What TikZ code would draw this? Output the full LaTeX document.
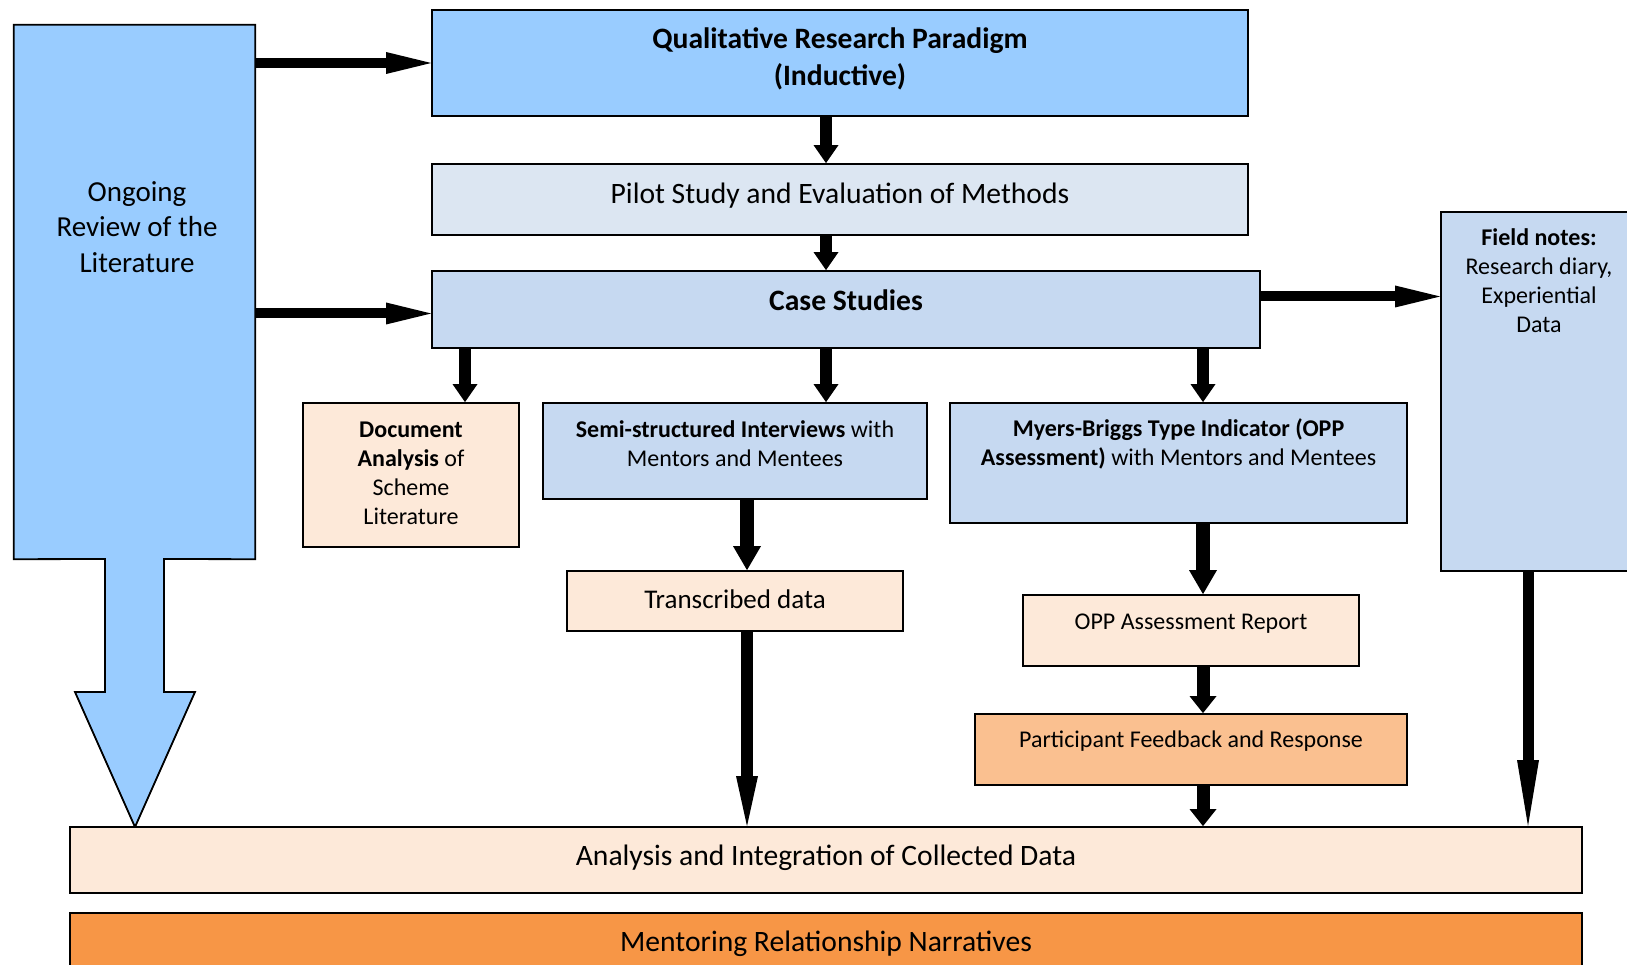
\documentclass[tikz,border=0pt]{standalone}
\usepackage{fontspec}
\setmainfont{Carlito}
\usetikzlibrary{arrows.meta}
\definecolor{skyblue}{HTML}{99CCFF}
\definecolor{paleblue}{HTML}{DCE6F2}
\definecolor{lightblue}{HTML}{C6D9F1}
\definecolor{peach}{HTML}{FDE9D9}
\definecolor{apricot}{HTML}{FAC090}
\definecolor{deeporange}{HTML}{F79646}
\begin{document}
\begin{tikzpicture}[x=1pt,y=-1pt,
  box/.style={draw=black, line width=1.8pt, inner sep=0pt},
  big/.style={font=\fontsize{29.6}{36.4}\selectfont, align=center, inner sep=0pt},
  mid/.style={font=\fontsize{27}{32}\selectfont, align=center, inner sep=0pt},
  small/.style={font=\fontsize{24}{29}\selectfont, align=center, inner sep=0pt},
  shortarrow/.style={line width=12pt, -{Triangle[length=18pt,width=25pt,line width=0pt]}},
  thickarrow/.style={line width=14pt, -{Triangle[length=24pt,width=28pt,line width=0pt]}},
  stubarrow/.style={line width=13pt, -{Triangle[length=17pt,width=27pt,line width=0pt]}},
  longarrow/.style={line width=10pt, -{Triangle[length=45pt,width=22pt,line width=0pt]}},
  spikearrow/.style={line width=11pt, -{Triangle[length=#1,width=22pt,line width=0pt]}},
  spikearrow/.default=60pt]
\useasboundingbox (0,0) rectangle (1627,965);
\clip (0,0) rectangle (1627,965);

% literature review: a box that narrows into a broad downward arrow
\node[minimum width=241pt, minimum height=534pt, inner sep=0pt] (litbox) at (134.5,292) {};
\draw[fill=skyblue, line width=1.8pt, line join=miter]
  (litbox.north west) -- (litbox.north east) -- (litbox.south east)
  -- (164,559) -- (164,692) -- (195,692) -- (135,827) -- (75,692)
  -- (105,692) -- (105,559) -- (litbox.south west) -- cycle;
\node[big, font=\fontsize{29}{35.8}\selectfont] (lit) at (137,227) {Ongoing\\Review of the\\Literature};

% main column
\node[box, fill=skyblue, minimum width=816pt, minimum height=106pt,
  label={[big, yshift=4pt]center:{\textbf{Qualitative Research Paradigm}\\\textbf{(Inductive)}}}]
  (qual) at (840,63) {};
\node[box, fill=paleblue, minimum width=816pt, minimum height=71pt,
  label={[big, yshift=4pt]center:{Pilot Study and Evaluation of Methods}}]
  (pilot) at (840,199.5) {};
\node[box, fill=lightblue, minimum width=828pt, minimum height=77pt,
  label={[big, yshift=9pt]center:{\textbf{Case Studies}}}]
  (case) at (846,309.5) {};

% field notes (runs off the right edge)
\node[box, fill=lightblue, minimum width=196pt, minimum height=359pt,
  label={[small, anchor=north, yshift=-17pt]north:{\textbf{Field notes:}\\Research diary,\\Experiential\\Data}}]
  (field) at (1539,391.5) {};

% data collection methods
\node[box, fill=peach, minimum width=216pt, minimum height=144pt,
  label={[small, yshift=2pt]center:{\textbf{Document}\\\textbf{Analysis} of\\Scheme\\Literature}}]
  (doc) at (411,475) {};
\node[box, fill=lightblue, minimum width=384pt, minimum height=96pt,
  label={[small, yshift=7pt]center:{\textbf{Semi-structured Interviews} with\\Mentors and Mentees}}]
  (semi) at (735,451) {};
\node[box, fill=lightblue, minimum width=457pt, minimum height=120pt,
  label={[small, yshift=19pt]center:{\textbf{Myers-Briggs Type Indicator (OPP}\\\textbf{Assessment)} with Mentors and Mentees}}]
  (myers) at (1178.5,463) {};

% outputs
\node[box, fill=peach, minimum width=336pt, minimum height=60pt,
  label={[mid, yshift=2pt]center:{Transcribed data}}]
  (trans) at (735,601) {};
\node[box, fill=peach, minimum width=336pt, minimum height=71pt,
  label={[small, yshift=7pt]center:{OPP Assessment Report}}]
  (opp) at (1191,630.5) {};
\node[box, fill=apricot, minimum width=432pt, minimum height=71pt,
  label={[small, yshift=8pt]center:{Participant Feedback and Response}}]
  (part) at (1191,749.5) {};

% synthesis
\node[box, fill=peach, minimum width=1512pt, minimum height=66pt,
  label={[big, yshift=2pt]center:{Analysis and Integration of Collected Data}}]
  (anal) at (826,860) {};
\node[box, fill=deeporange, minimum width=1512pt, minimum height=58pt,
  label={[big, yshift=-2pt]center:{Mentoring Relationship Narratives}}]
  (ment) at (826,942) {};

% connector columns
\coordinate (c1) at (465,0);
\coordinate (c2) at (826,0);
\coordinate (c3) at (1203,0);
\coordinate (c4) at (747,0);
\coordinate (c5) at (1528,0);

\draw[longarrow] (litbox.east |- qual.west) -- (qual.west);
\draw[longarrow] ([yshift=-4pt]litbox.east |- case.west) -- ([yshift=-4pt]case.west);
\draw[longarrow] ([yshift=13pt]case.east) -- ([yshift=13pt]case.east -| field.west);

\draw[shortarrow] (qual.south -| c2) -- (pilot.north -| c2);
\draw[shortarrow] (pilot.south -| c2) -- (case.north -| c2);
\draw[shortarrow] (case.south -| c1) -- (doc.north -| c1);
\draw[shortarrow] (case.south -| c2) -- (semi.north -| c2);
\draw[shortarrow] (case.south -| c3) -- (myers.north -| c3);
\draw[thickarrow] (semi.south -| c4) -- (trans.north -| c4);
\draw[spikearrow=50pt, line width=12pt] (trans.south -| c4) -- (anal.north -| c4);
\draw[thickarrow] (myers.south -| c3) -- (opp.north -| c3);
\draw[stubarrow] (opp.south -| c3) -- (part.north -| c3);
\draw[stubarrow] (part.south -| c3) -- (anal.north -| c3);
\draw[spikearrow=66pt] (field.south -| c5) -- (anal.north -| c5);
\end{tikzpicture}
\end{document}
